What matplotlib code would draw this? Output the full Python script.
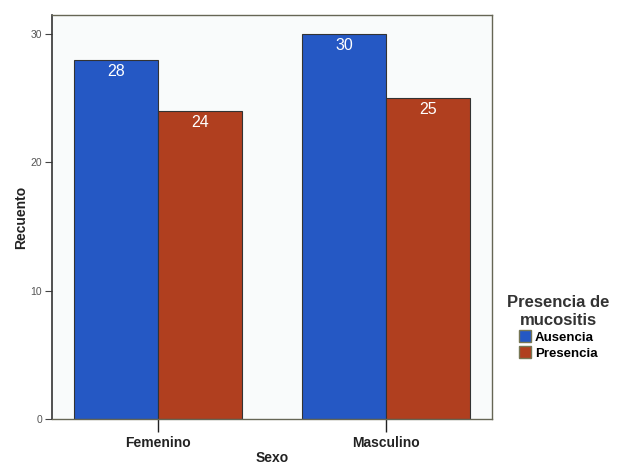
import matplotlib
matplotlib.use("Agg")
import matplotlib.pyplot as plt
from matplotlib.patches import Patch
import numpy as np

categories = ["Femenino", "Masculino"]
series_names = ["Ausencia", "Presencia"]
ausencia = [28, 30]
presencia = [24, 25]
yticks = [0, 10, 20, 30]

colors = ["#2558c4", "#b03f1f"]

fig = plt.figure(figsize=(6.22, 4.65), dpi=100)
fig.patch.set_facecolor("white")
ax = fig.add_axes([52/622, 1-419/465, (492-52)/622, (419-15)/465])
ax.set_facecolor("#f9fbfb")

x = np.arange(len(categories))
w = 0.368
for vals, off, c in [(ausencia, -w/2, colors[0]), (presencia, w/2, colors[1])]:
    bars = ax.bar(x + off, vals, width=w, color=c, edgecolor="#333333", linewidth=0.8, zorder=2)
    for b, v in zip(bars, vals):
        ax.text(b.get_x() + b.get_width()/2, v - 0.3, str(v), ha="center", va="top",
                color="white", fontsize=11.5, fontfamily="Liberation Sans", zorder=3)

ax.set_xlim(-0.465, 1.465)
ax.set_ylim(0, 31.5)
ax.set_yticks(yticks)
ax.set_yticklabels([str(t) for t in yticks], fontsize=7.5, color="#555555", fontfamily="Liberation Sans")
ax.set_xticks(x)
ax.set_xticklabels(categories, fontsize=10, fontweight="bold", color="#222222", fontfamily="Liberation Sans")
ax.tick_params(axis="y", length=5, width=0.8, color="#444444", pad=2)
ax.tick_params(axis="x", length=9, width=1.0, color="#222222", pad=3)
for s in ax.spines.values():
    s.set_color("#666655")
    s.set_linewidth(1.0)
ax.spines["left"].set_color("#333333")
ax.spines["left"].set_linewidth(1.2)

ax.set_ylabel("Recuento", fontsize=10, fontweight="bold", color="#222222", fontfamily="Liberation Sans", va="center")
ax.set_xlabel("Sexo", fontsize=10, fontweight="bold", color="#222222", fontfamily="Liberation Sans", va="center")
ax.yaxis.set_label_coords((21-52)/440, 0.5)
ax.xaxis.set_label_coords(0.5, (419-458)/404)

handles = [Patch(facecolor=colors[i], edgecolor="#777755", label=series_names[i]) for i in range(2)]
leg = fig.legend(handles=handles, title="Presencia de\nmucositis", loc="upper left",
                 bbox_to_anchor=(502/622, 1-290/465), frameon=False,
                 prop={"family": "Liberation Sans", "weight": "bold", "size": 9.5},
                 title_fontproperties={"family": "Liberation Sans", "weight": "bold", "size": 12},
                 handlelength=0.9, handleheight=1.0, handletextpad=0.3, labelspacing=0.2,
                 borderaxespad=0)
leg.get_title().set_color("#333333")
leg.get_title().set_multialignment("center")

fig.savefig("out.png", dpi=100)
